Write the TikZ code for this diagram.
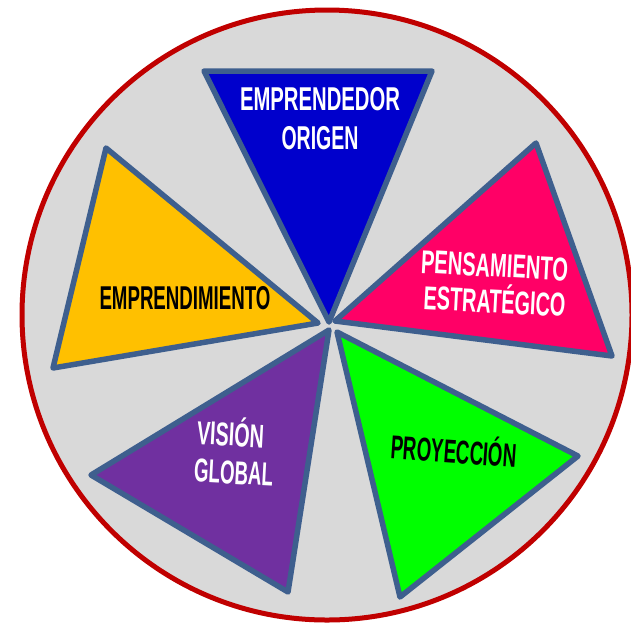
\documentclass[tikz,border=0pt]{standalone}
\usepackage{fontspec}
\usepackage{graphicx}
\setmainfont{Liberation Sans}
\definecolor{ringred}{HTML}{C00000}
\definecolor{discgray}{HTML}{D9D9D9}
\definecolor{edgeblue}{HTML}{3E5F8E}
\definecolor{cblue}{HTML}{0000CC}
\definecolor{cpink}{HTML}{FF0066}
\definecolor{cgreen}{HTML}{00FF00}
\definecolor{cpurple}{HTML}{7030A0}
\definecolor{cyellow}{HTML}{FFC000}
\newcommand{\fitlbl}[2]{\resizebox{#1pt}{\height}{#2}}
\begin{document}
\begin{tikzpicture}[x=1pt,y=-1pt,
  wedge/.style={draw=edgeblue,line width=5.5pt,line join=round},
  lbl/.style={inner sep=0pt,anchor=base,font=\fontsize{33}{33}\selectfont\bfseries}]
\useasboundingbox (0,0) rectangle (631,625);
\clip (0,0) rectangle (631,625);
\fill[white] (0,0) rectangle (631,625);
\draw[fill=discgray,draw=ringred,line width=5pt] (327,315) circle[radius=305];
% wedges
\draw[wedge,fill=cblue] (204,71) -- (432,71) -- (329,322) -- cycle;
\draw[wedge,fill=cpink] (335,321) -- (536,143) -- (612,356) -- cycle;
\draw[wedge,fill=cgreen] (337,332) -- (578,456) -- (400,597) -- cycle;
\draw[wedge,fill=cpurple] (329,330) -- (288,592) -- (91,475) -- cycle;
\draw[wedge,fill=cyellow] (318,323) -- (53,368) -- (106,148) -- cycle;
% labels
\node[lbl,text=white] (t1) at (320,110) {\fitlbl{160}{EMPRENDEDOR}};
\node[lbl,text=white] (t2) at (320,149) {\fitlbl{77}{ORIGEN}};
\node[lbl,text=white,rotate=-3] (t3) at (494,277) {\fitlbl{147}{PENSAMIENTO}};
\node[lbl,text=white,rotate=-3] (t4) at (494,313) {\fitlbl{142}{ESTRATÉGICO}};
\node[lbl,text=black] (t5) at (185,309) {\fitlbl{171}{EMPRENDIMIENTO}};
\node[lbl,text=white,rotate=-3] (t6) at (230,446) {\fitlbl{67}{VISIÓN}};
\node[lbl,text=white,rotate=-3] (t7) at (233,484) {\fitlbl{79}{GLOBAL}};
\node[lbl,text=black,rotate=-4] (t8) at (453,463) {\fitlbl{126}{PROYECCIÓN}};
\end{tikzpicture}
\end{document}
